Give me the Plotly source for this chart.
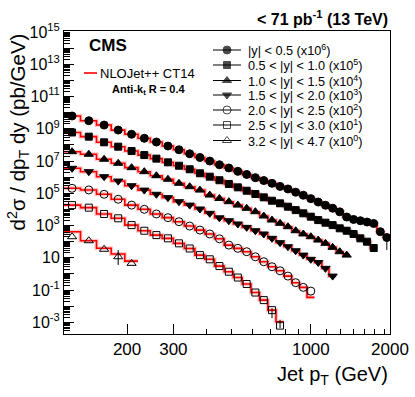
import plotly.graph_objects as go

FONT = "Liberation Sans"
RED = "#ff0000"

# jet pT bin edges (GeV)
PT_EDGES = [114, 133, 153, 174, 196, 220, 245, 272, 300, 330, 362, 395, 430,
            468, 507, 548, 592, 638, 686, 737, 790, 846, 905, 967, 1032, 1101,
            1172, 1248, 1327, 1410, 1497, 1588, 1684, 1784, 1890, 2000]

Y_BINS = ["|y| < 0.5", "0.5 < |y| < 1.0", "1.0 < |y| < 1.5", "1.5 < |y| < 2.0",
          "2.0 < |y| < 2.5", "2.5 < |y| < 3.0", "3.2 < |y| < 4.7"]
SCALE_EXP = [6, 5, 4, 3, 2, 1, 0]
SYMBOLS = ["circle", "square", "triangle-up", "triangle-down",
           "circle-open", "square-open", "triangle-up-open"]

# measured cross sections d2sigma/dpT dy (pb/GeV), before scaling
XS_Y00 = [6.2e3, 3.16e3, 1.70e3, 8.3e2, 4.57e2, 2.57e2, 1.51e2, 85.1, 50.1, 28.2,
          16.6, 10.0, 5.89, 3.72, 2.29, 1.48, 0.933, 0.617, 0.417, 0.269, 0.186,
          0.117, 0.0759, 0.0468, 0.0288, 0.0182, 0.0120, 7.08e-3, 3.39e-3,
          2.40e-3, 2.00e-3, 1.66e-3, 1.35e-3, 4.17e-4, 1.82e-4]
XS_Y05 = [5.89e3, 3.24e3, 1.45e3, 7.76e2, 4.17e2, 2.34e2, 1.41e2, 83.2, 51.3, 30.9,
          17.4, 10.7, 6.46, 3.80, 2.34, 1.45, 0.912, 0.562, 0.347, 0.240, 0.148,
          0.0912, 0.0575, 0.0355, 0.0219, 0.0151, 0.0107, 6.76e-3, 4.79e-3,
          3.02e-3, 1.62e-3, 1.00e-3, 4.07e-4]
XS_Y10 = [3.8e3, 2.63e3, 1.29e3, 7.24e2, 3.89e2, 2.19e2, 1.23e2, 74.1, 41.7, 25.7,
          15.8, 7.76, 4.79, 3.02, 1.86, 1.17, 0.724, 0.389, 0.219, 0.138, 0.0851,
          0.0479, 0.0302, 0.0204, 0.0126, 7.94e-3, 4.47e-3, 2.40e-3, 1.48e-3]
XS_Y15 = [3.55e3, 2.19e3, 1.07e3, 5.75e2, 2.95e2, 1.58e2, 87.1, 53.7, 30.2, 18.6,
          10.7, 5.75, 3.02, 2.00, 1.26, 0.776, 0.479, 0.302, 0.162, 0.0871, 0.0490,
          0.0275, 0.0148, 8.13e-3, 5.13e-3, 2.24e-3, 7.41e-4]
XS_Y20 = [2.04e3, 1.62e3, 8.71e2, 4.27e2, 1.86e2, 1.02e2, 52.5, 30.9, 17.4, 9.33,
          5.25, 3.02, 1.51, 0.617, 0.389, 0.240, 0.117, 0.0575, 0.0282, 0.0158,
          7.41e-3, 2.88e-3, 1.48e-3, 8.71e-4]
XS_Y25 = [1.86e3, 1.29e3, 5.25e2, 2.82e2, 1.07e2, 47.9, 25.7, 16.2, 7.94, 3.80,
          1.48, 0.813, 0.309, 0.138, 0.0603, 0.0240, 7.08e-3, 2.40e-3, 5.75e-4,
          6.31e-5]
XS_Y32 = [2.04e2, 1.15e2, 33.9, 11.7, 4.57]
XS = [XS_Y00, XS_Y05, XS_Y10, XS_Y15, XS_Y20, XS_Y25, XS_Y32]

# NLO prediction: follows the data except where listed (bin index -> value)
NLO_DIFF = {4: {23: 3.55e-4}, 5: {19: 1.1e-4},
            6: {0: 4.17e2, 2: 39.0, 3: 17.4, 4: 6.3}}

# relative (up, down) uncertainties where bars stick out of the marker
ERR_REL = {0: {34: (0.3, 0.83)}, 5: {18: (0.3, 0.68), 19: (1.3, 0.3)},
           6: {3: (1.6, 0.69)}}

fig = go.Figure()

for i, vals in enumerate(XS):
    k = 10 ** SCALE_EXP[i]
    n = len(vals)
    centers = [(PT_EDGES[j] + PT_EDGES[j + 1]) / 2 for j in range(n)]
    nlo = [NLO_DIFF.get(i, {}).get(j, v) * k for j, v in enumerate(vals)]
    xs = PT_EDGES[:n + 1]
    for w, c in ((4, "rgba(255,0,0,0.22)"), (1.6, RED)):
        fig.add_trace(go.Scatter(x=xs, y=nlo + [nlo[-1]], mode="lines",
                                 line=dict(color=c, width=w, shape="hv"),
                                 showlegend=False, hoverinfo="skip"))
    up = [v * k * ERR_REL.get(i, {}).get(j, (0, 0))[0] for j, v in enumerate(vals)]
    dn = [v * k * ERR_REL.get(i, {}).get(j, (0, 0))[1] for j, v in enumerate(vals)]
    size = 7 if "square" in SYMBOLS[i] else 8
    fig.add_trace(go.Scatter(
        x=centers, y=[v * k for v in vals], mode="markers",
        marker=dict(symbol=SYMBOLS[i], size=size, color="black",
                    line=dict(color="black", width=1)),
        error_y=dict(type="data", symmetric=False, array=up, arrayminus=dn,
                     color="black", thickness=1, width=0),
        showlegend=False, name=Y_BINS[i]))


# ---- legend keys / labels (plot-area fractions from pixel positions)
def fx(px):
    return (px - 64) / 326


def fy(py):
    return 1 - (py - 31) / 303


ROWS = [50, 65, 80.5, 95, 110, 125, 140.5]
annotations = []
for i, py in enumerate(ROWS):
    size = 7 if "square" in SYMBOLS[i] else 8
    fig.add_trace(go.Scatter(
        x=[fx(213), fx(227), fx(241)], y=[fy(py)] * 3, xaxis="x2", yaxis="y2",
        mode="lines+markers", line=dict(color="black", width=1),
        marker=dict(symbol=SYMBOLS[i], size=[0, size, 0], color="black",
                    line=dict(color="black", width=1)),
        showlegend=False, hoverinfo="skip"))
    annotations.append(dict(
        x=fx(246), y=fy(py), xref="paper", yref="paper", xanchor="left",
        yanchor="middle", showarrow=False,
        text=f"{Y_BINS[i]} (x10<sup>{SCALE_EXP[i]}</sup>)",
        font=dict(size=12.7, family=FONT, color="black")))

annotations += [
    dict(x=fx(87), y=fy(45), xref="paper", yref="paper", xanchor="left",
         yanchor="middle", showarrow=False, text="<b>CMS</b>",
         font=dict(size=17, family=FONT, color="black")),
    dict(x=fx(98), y=fy(73), xref="paper", yref="paper", xanchor="left",
         yanchor="middle", showarrow=False, text="NLOJet++ CT14",
         font=dict(size=13, family=FONT, color="black")),
    dict(x=fx(110), y=fy(90), xref="paper", yref="paper", xanchor="left",
         yanchor="middle", showarrow=False,
         text="<b>Anti-k<sub>t</sub> R = 0.4</b>",
         font=dict(size=11, family=FONT, color="black")),
    dict(x=1, y=fy(18), xref="paper", yref="paper", xanchor="right",
         yanchor="middle", showarrow=False,
         text="<b>< 71 pb<sup>-1</sup> (13 TeV)</b>",
         font=dict(size=16, family=FONT, color="black")),
    dict(x=1, y=fy(376), xref="paper", yref="paper", xanchor="right",
         yanchor="middle", showarrow=False, text="Jet p<sub>T</sub> (GeV)",
         font=dict(size=20, family=FONT, color="black")),
    dict(x=fx(18), y=fy(32), xref="paper", yref="paper", xanchor="center",
         yanchor="top", showarrow=False, textangle=-90,
         text="d<sup>2</sup>σ / dp<sub>T</sub> dy (pb/GeV)",
         font=dict(size=20.5, family=FONT, color="black")),
]

y_major = [10.0 ** e for e in range(-3, 16)]
y_text = [("10" if e == 1 else f"10<sup>{e}</sup>") if e % 2 else ""
          for e in range(-3, 16)]
y_minor = [m * 10.0 ** e for e in range(-4, 15) for m in range(2, 10)]

fig.update_layout(
    template="none",
    width=415, height=397, margin=dict(l=64, r=25, t=31, b=63),
    paper_bgcolor="white", plot_bgcolor="white",
    font=dict(family=FONT, color="black"),
    annotations=annotations,
    shapes=[dict(type="line", xref="paper", yref="paper", x0=fx(84), x1=fx(97),
                 y0=fy(73), y1=fy(73), line=dict(color=RED, width=1.6))],
    xaxis=dict(type="log", range=[2.061, 3.301], showgrid=False, zeroline=False,
               automargin=False,
               showline=True, linecolor="black", linewidth=1, mirror=True,
               ticks="inside", ticklen=10, tickcolor="black",
               tickvals=[200, 300, 1000, 2000],
               ticktext=["200", "300", "1000", "2000"],
               tickfont=dict(size=17, family=FONT),
               minor=dict(ticks="inside", ticklen=5, tickcolor="black",
                          tickvals=[400, 500, 600, 700, 800, 900, 1150, 1300,
                                    1450, 1600, 1750, 1900])),
    yaxis=dict(type="log", range=[-3.72, 15.06], showgrid=False, zeroline=False,
               automargin=False,
               showline=True, linecolor="black", linewidth=1, mirror=True,
               ticks="inside", ticklen=10, tickcolor="black",
               tickvals=y_major, ticktext=y_text,
               tickfont=dict(size=16, family=FONT),
               minor=dict(ticks="inside", ticklen=6, tickcolor="black",
                          tickvals=y_minor)),
    xaxis2=dict(overlaying="x", anchor="y2", range=[0, 1], visible=False),
    yaxis2=dict(overlaying="y", anchor="x2", range=[0, 1], visible=False),
)

# page body has a default 8px margin; drop it so the figure sits at (0, 0)
fig.write_html("out.html", config={"displayModeBar": False},
               post_script="document.body.style.margin='0';")
